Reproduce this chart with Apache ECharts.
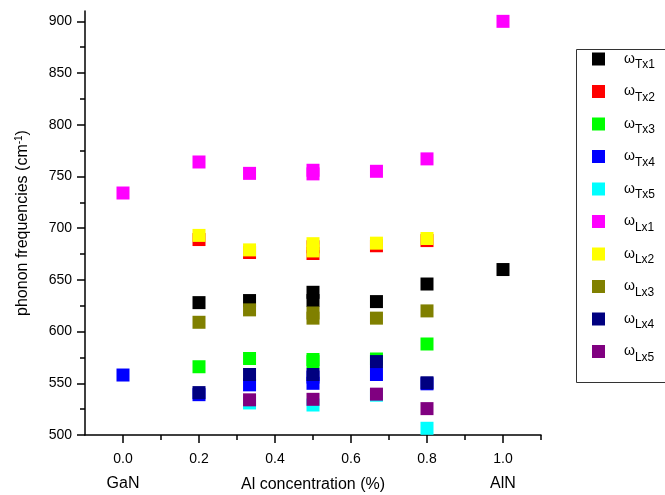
<!DOCTYPE html>
<html>
<head>
<meta charset="utf-8">
<script src="https://cdn.jsdelivr.net/npm/echarts@6/dist/echarts.min.js"></script>
<style>
  html, body { margin: 0; padding: 0; background: #fff; }
  #chart { width: 665px; height: 495px; }
</style>
</head>
<body>
<div id="chart"></div>
<script>
// mode names (subscripts) and their colours
const modes = ['Tx1', 'Tx2', 'Tx3', 'Tx4', 'Tx5', 'Lx1', 'Lx2', 'Lx3', 'Lx4', 'Lx5'];
const colors = ['#000000', '#ff0000', '#00ff00', '#0000ff', '#00ffff',
                '#ff00ff', '#ffff00', '#808000', '#000080', '#800080'];

// [Al concentration, frequency cm-1]
const tx1 = [[0.2, 628], [0.333, 630], [0.5, 638], [0.5, 630], [0.667, 629], [0.8, 646], [1.0, 660]];
const tx2 = [[0.2, 689], [0.333, 676.5], [0.5, 682], [0.5, 675.5], [0.667, 683], [0.8, 688]];
const tx3 = [[0.2, 566], [0.333, 574], [0.5, 573], [0.5, 571], [0.667, 573.5], [0.8, 588]];
const tx4 = [[0.0, 558], [0.2, 539], [0.333, 548.5], [0.5, 550], [0.5, 556], [0.667, 558.5], [0.8, 549.5]];
const tx5 = [[0.333, 531], [0.5, 529], [0.667, 538.5], [0.8, 506.5]];
const lx1 = [[0.0, 734], [0.2, 764], [0.333, 753], [0.5, 756], [0.5, 752.5], [0.667, 755], [0.8, 767], [1.0, 900]];
const lx2 = [[0.2, 693], [0.333, 679], [0.5, 685], [0.5, 678], [0.667, 685.5], [0.8, 690]];
const lx3 = [[0.2, 609], [0.333, 621], [0.5, 618], [0.5, 613], [0.667, 613], [0.8, 620]];
const lx4 = [[0.2, 541], [0.333, 558.5], [0.5, 558.5], [0.667, 571], [0.8, 550.5]];
const lx5 = [[0.333, 534], [0.5, 534.5], [0.667, 539.5], [0.8, 525.5]];
const allData = [tx1, tx2, tx3, tx4, tx5, lx1, lx2, lx3, lx4, lx5];

// tick values
const xTicks = [0, 0.2, 0.4, 0.6, 0.8, 1.0];
const xMinor = [0.1, 0.3, 0.5, 0.7, 0.9, 1.1];
const yTicks = [500, 550, 600, 650, 700, 750, 800, 850, 900];
const yMinor = [525, 575, 625, 675, 725, 775, 825, 875];
const endLabels = { 0: 'GaN', 1: 'AlN' };

const font = 'Liberation Sans, Arial, sans-serif';
const chart = echarts.init(document.getElementById('chart'));

const series = modes.map((m, i) => ({
  name: m,
  type: 'scatter',
  symbol: 'rect',
  symbolSize: 13,
  itemStyle: { color: colors[i], opacity: 1 },
  data: allData[i]
}));

const option = {
  animation: false,
  grid: { left: 85, right: 124, top: 11, bottom: 60, outerBoundsMode: 'none' },
  xAxis: [
    {
      type: 'value', min: -0.1, max: 1.1,
      axisLine: { onZero: false, lineStyle: { color: '#000', width: 1.5 } },
      axisTick: { customValues: xTicks, length: 8, lineStyle: { color: '#000', width: 1.5 } },
      axisLabel: { customValues: xTicks, formatter: v => v.toFixed(1), color: '#000', fontSize: 14, fontFamily: font, margin: 17 },
      splitLine: { show: false },
      name: 'Al concentration (%)', nameLocation: 'middle', nameGap: 42,
      nameTextStyle: { color: '#000', fontSize: 16, fontFamily: font }
    },
    {
      type: 'value', min: -0.1, max: 1.1, position: 'bottom',
      axisLine: { show: false, onZero: false },
      axisTick: { customValues: xMinor, length: 5, lineStyle: { color: '#000', width: 1.5 } },
      axisLabel: { show: false },
      splitLine: { show: false }
    },
    {
      type: 'value', min: -0.1, max: 1.1, position: 'bottom',
      axisLine: { show: false, onZero: false },
      axisTick: { show: false },
      axisLabel: { customValues: [0, 1], formatter: v => endLabels[v], color: '#000', fontSize: 16, fontFamily: font, margin: 41 },
      splitLine: { show: false }
    }
  ],
  yAxis: [
    {
      type: 'value', min: 500, max: 910,
      axisLine: { show: true, onZero: false, lineStyle: { color: '#000', width: 1.5 } },
      axisTick: { show: true, customValues: yTicks, length: 8, lineStyle: { color: '#000', width: 1.5 } },
      axisLabel: { customValues: yTicks, color: '#000', fontSize: 14, fontFamily: font, margin: 13 },
      splitLine: { show: false },
      name: 'phonon frequencies (cm{sup|-1})', nameLocation: 'middle', nameGap: 53,
      nameTextStyle: { color: '#000', fontSize: 16, fontFamily: font,
        rich: { sup: { fontSize: 10, fontFamily: font, color: '#000', verticalAlign: 'top', padding: [0, 0, 8, 0] } } }
    },
    {
      type: 'value', min: 500, max: 910, position: 'left',
      axisLine: { show: false, onZero: false },
      axisTick: { show: true, customValues: yMinor, length: 5, lineStyle: { color: '#000', width: 1.5 } },
      axisLabel: { show: false },
      splitLine: { show: false }
    }
  ],
  legend: {
    orient: 'vertical', left: 587, top: 47,
    itemWidth: 13, itemHeight: 13, itemGap: 13.5,
    icon: 'rect',
    data: modes,
    formatter: n => '{w|ω}{s|' + n + '}',
    textStyle: {
      color: '#000', fontFamily: font,
      rich: {
        w: { fontSize: 14, fontFamily: font, color: '#000', padding: [0, 0, 0, 14] },
        s: { fontSize: 12, fontFamily: font, color: '#000', padding: [12, 0, 0, 0] }
      }
    }
  },
  graphic: [{
    type: 'rect', left: 574, top: 47,
    shape: { width: 110, height: 333 },
    style: { fill: null, stroke: '#333', lineWidth: 1 }
  }],
  series: series
};

chart.setOption(option);
</script>
</body>
</html>
